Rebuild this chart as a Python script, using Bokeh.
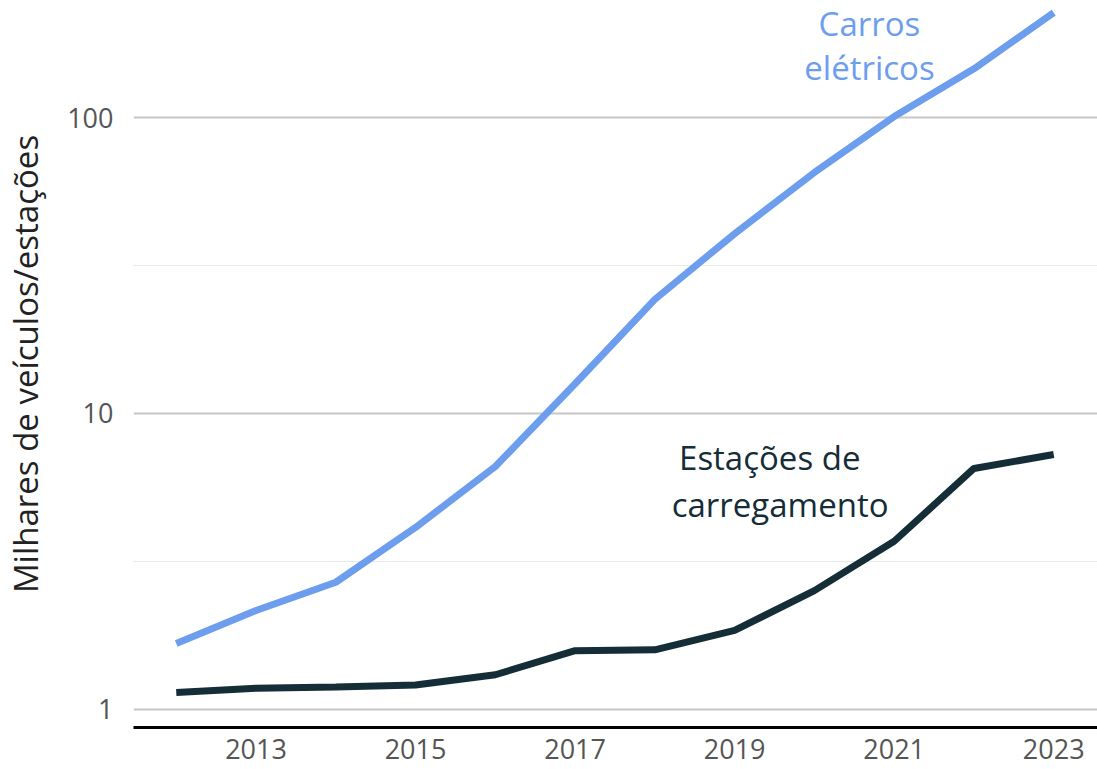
from bokeh.plotting import figure
from bokeh.models import FixedTicker, Label
from bokeh.embed import file_html
from bokeh.resources import INLINE

years = [2012, 2013, 2014, 2015, 2016, 2017, 2018, 2019, 2020, 2021, 2022, 2023]
electric_cars = [1.67, 2.16, 2.69, 4.12, 6.62, 12.6, 24.3, 40.5, 65.2, 100.7, 146, 226]
charging_stations = [1.14, 1.18, 1.19, 1.21, 1.31, 1.58, 1.59, 1.85, 2.52, 3.70, 6.52, 7.27]
x_ticks = [2013, 2015, 2017, 2019, 2021, 2023]
y_ticks = [1, 10, 100]
y_tick_labels = ["1", "10", "100"]
y_minor = [3.1623, 31.623]

FONT = "Open Sans"
BLUE = "#6d9eee"
DARK = "#142d37"

p = figure(width=1097, height=769, y_axis_type="log",
           x_range=(2011.464, 2023.549), y_range=(0.869, 248.5),
           output_backend="svg", toolbar_location=None,
           min_border_left=129, min_border_right=0, min_border_top=0, min_border_bottom=42)
p.outline_line_color = None
p.background_fill_color = "white"

p.line(years, electric_cars, line_width=7, line_color=BLUE)
p.line(years, charging_stations, line_width=7, line_color=DARK)

p.xaxis.ticker = FixedTicker(ticks=x_ticks)
p.yaxis.ticker = FixedTicker(ticks=y_ticks, minor_ticks=y_minor)
p.yaxis.major_label_overrides = {t: s for t, s in zip(y_ticks, y_tick_labels)}
p.xgrid.grid_line_color = None
p.ygrid.grid_line_color = "#c8c8c8"
p.ygrid.grid_line_width = 2
p.ygrid.minor_grid_line_color = "#e8e8e8"
p.ygrid.minor_grid_line_width = 1

for ax in (p.xaxis, p.yaxis):
    ax.major_tick_line_color = None
    ax.minor_tick_line_color = None
    ax.major_label_text_font = FONT
    ax.major_label_text_font_size = "27px"
    ax.major_label_text_color = "#555555"
p.xaxis.axis_line_color = "black"
p.xaxis.axis_line_width = 3
p.xaxis.major_label_standoff = 5
p.yaxis.axis_line_color = None
p.yaxis.major_label_standoff = 14
p.yaxis.axis_label = "Milhares de veículos/estações"
p.yaxis.axis_label_text_font = FONT
p.yaxis.axis_label_text_font_size = "33px"
p.yaxis.axis_label_text_font_style = "normal"
p.yaxis.axis_label_text_color = "#222222"
p.yaxis.axis_label_standoff = 16

for txt, x, y, col in [("Carros", 2020.69, 208, BLUE), ("elétricos", 2020.69, 147, BLUE),
                       ("Estações de", 2019.44, 7.1, DARK), ("carregamento", 2019.57, 4.93, DARK)]:
    p.add_layout(Label(x=x, y=y, text=txt, text_font=FONT, text_font_size="33px",
                       text_color=col, text_align="center", text_baseline="middle"))

open("out.html", "w").write(file_html(p, INLINE))
